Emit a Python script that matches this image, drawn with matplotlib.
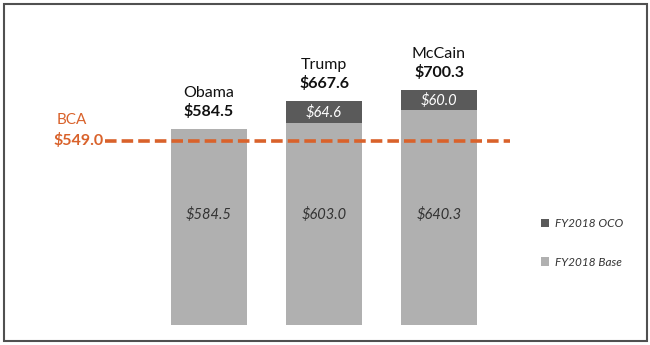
import matplotlib
matplotlib.use("Agg")
import matplotlib.pyplot as plt
from matplotlib.patches import Rectangle

plt.rcParams['font.family'] = ['Lato', 'DejaVu Sans']

# data
names = ["Obama", "Trump", "McCain"]
base = [584.5, 603.0, 640.3]
oco = [0.0, 64.6, 60.0]
totals = [584.5, 667.6, 700.3]
bca = 549.0

base_color = "#b0b0b0"
oco_color = "#5a5a5a"
orange = "#d9622b"

fig = plt.figure(figsize=(6.5, 3.45), dpi=100)
ax = fig.add_axes([0, 20 / 345, 1, 305 / 345])

x = [0, 1, 2]
w = 0.66
ax.bar(x, base, width=w, color=base_color, label="FY2018 Base", zorder=2)
oco_x = [xi for xi, v in zip(x, oco) if v > 0]
oco_v = [v for v in oco if v > 0]
oco_b = [b for b, v in zip(base, oco) if v > 0]
ax.bar(oco_x, oco_v, bottom=oco_b, width=w, color=oco_color, label="FY2018 OCO", zorder=2)

ax.set_xlim(-209 / 115, 441 / 115)
ax.set_ylim(0, 910)
ax.axis("off")

# BCA line
ax.plot([-0.904, 2.617], [bca, bca], color=orange, lw=2.6, ls=(0, (3.2, 1.4)), zorder=3)
ax.text(-0.92, bca, f"${bca:.1f}", color=orange, fontsize=11.5, fontweight="bold",
        ha="right", va="center")
ax.text(-1.19, bca + 62, "BCA", color=orange, fontsize=11, ha="center", va="center")

# labels
for xi, n, t, b, o in zip(x, names, totals, base, oco):
    ax.text(xi, t + 30, f"${t:.1f}", fontsize=11.5, fontweight="bold", ha="center",
            va="bottom", color="#111111")
    ax.text(xi, t + 87, n, fontsize=11.5, ha="center", va="bottom", color="#111111")
    ax.text(xi, 330, f"${b:.1f}", fontsize=10.5, style="italic", ha="center",
            va="center", color="#333333")
    if o > 0:
        ax.text(xi, b + o / 2, f"${o:.1f}", fontsize=10.5, style="italic", ha="center",
                va="center", color="white")

# legend
handles, labels = ax.get_legend_handles_labels()
leg = fig.legend(handles[::-1], labels[::-1], loc="center left",
                 bbox_to_anchor=(530 / 650, 1 - 243 / 345), frameon=False,
                 prop={"size": 8.5, "style": "italic"}, handlelength=0.7,
                 handleheight=0.7, labelspacing=2.3, handletextpad=0.5)
for txt in leg.get_texts():
    txt.set_color("#333333")

# border
fig.patches.append(Rectangle((3.5 / 650, 4.5 / 345), 643 / 650, 337 / 345,
                             transform=fig.transFigure, fill=False,
                             edgecolor="#505050", lw=1.5))

fig.savefig("out.png", dpi=100)
